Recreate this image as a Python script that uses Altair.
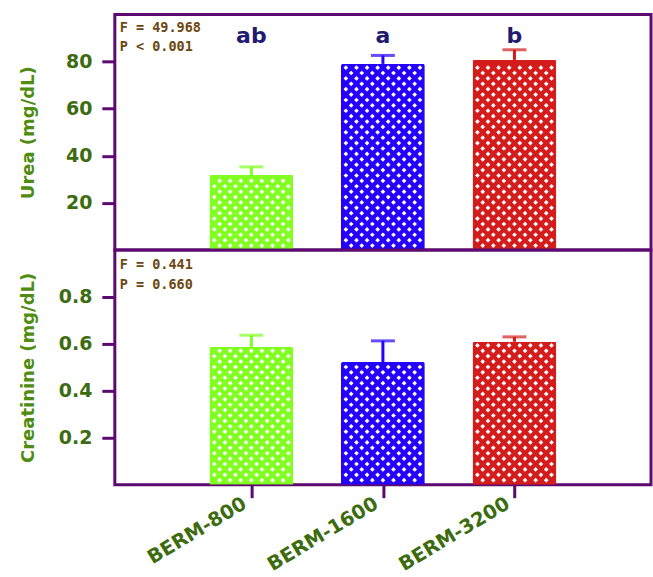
import altair as alt
import pandas as pd

groups = ["BERM-800", "BERM-1600", "BERM-3200"]
positions = [1, 2, 3]
colors = ["#80ff20", "#2400ff", "#d41c1c"]
urea = [31.9, 79.0, 80.7]
urea_err = [3.4, 3.6, 4.3]
creat = [0.587, 0.523, 0.609]
creat_err = [0.050, 0.090, 0.021]
letters = ["ab", "a", "b"]
urea_stats = ["F = 49.968", "P < 0.001"]
creat_stats = ["F = 0.441", "P = 0.660"]

FRAME = "#5c0a70"
LABEL = "#3d6c10"
TITLE = "#4f8c12"
W = 537
H1 = 236
H2 = 235
XMAX = 4.0
BARPX = 84
STEP = 5.4  # pattern step in px

df_u = pd.DataFrame({"group": groups, "pos": positions, "val": urea, "err": urea_err,
                     "letter": letters})
df_u["top"] = df_u["val"] + df_u["err"]
df_c = pd.DataFrame({"group": groups, "pos": positions, "val": creat, "err": creat_err})
df_c["top"] = df_c["val"] + df_c["err"]

xscale = alt.Scale(domain=[0, XMAX], nice=False, zero=False)
cscale = alt.Scale(domain=groups, range=colors)


def panel(df, ymax, yvals, fmt, title, height, stats, srange, bottom, letters_on):
    pxu = height / ymax
    xpx = W / XMAX
    base = alt.Chart(df)
    yaxis = alt.Axis(values=yvals, format=fmt, title=title, titleX=-77,
                     titleBaseline="bottom")
    if bottom:
        xaxis = alt.Axis(values=positions, title=None,
                         labelExpr="datum.value == 1 ? 'BERM-800' : datum.value == 2 ? 'BERM-1600' : 'BERM-3200'",
                         labelAngle=-31, labelAlign="right", labelBaseline="middle",
                         labelFontSize=19.5, labelFont="DejaVu Sans", labelFontWeight="bold",
                         labelColor=LABEL, ticks=True, tickSize=13, tickWidth=3,
                         tickColor=FRAME, domain=False, grid=False, labelPadding=4,
                         labelOffset=-7)
    else:
        xaxis = None
    bars = base.mark_bar(size=BARPX, cornerRadiusTopLeft=2, cornerRadiusTopRight=2).encode(
        x=alt.X("pos:Q", scale=xscale, axis=xaxis),
        y=alt.Y("val:Q", scale=alt.Scale(domain=[0, ymax], nice=False), axis=yaxis),
        color=alt.Color("group:N", scale=cscale, legend=None),
    )
    # white diamond lattice pattern inside bars
    pattern = base.transform_calculate(
        kx="sequence(-7, 8)"
    ).transform_flatten(["kx"]).transform_calculate(
        jy="sequence(0, 46)"
    ).transform_flatten(["jy"]).transform_filter(
        "(datum.kx + datum.jy + 100) % 2 == 0"
    ).transform_calculate(
        px=f"datum.pos + datum.kx * {STEP} / {xpx}",
        py=f"(datum.jy * {STEP} + 4.5) / {pxu}",
    ).transform_filter(
        f"datum.py < datum.val - 3.5 / {pxu}"
    ).mark_point(shape="diamond", filled=True, size=22, color="white", opacity=1).encode(
        x=alt.X("px:Q", scale=xscale), y=alt.Y("py:Q"))
    rule = base.mark_rule(strokeWidth=3).encode(
        x="pos:Q", y="val:Q", y2="top:Q",
        color=alt.Color("group:N", scale=cscale, legend=None))
    cap = base.mark_tick(orient="horizontal", size=24, thickness=3).encode(
        x="pos:Q", y="top:Q", color=alt.Color("group:N", scale=cscale, legend=None))
    sdf = pd.DataFrame({"t": stats, "i": [0, 1]})
    stat_text = alt.Chart(sdf).mark_text(
        align="left", baseline="middle", font="DejaVu Sans Mono", fontWeight="bold",
        fontSize=13.5, color="#6b4810").encode(
        text="t:N",
        x=alt.value(5),
        y=alt.Y("i:Q", scale=alt.Scale(domain=[0, 1], range=srange), axis=None))
    layers = [bars, pattern, rule, cap]
    if letters_on:
        lt = base.mark_text(font="DejaVu Sans", fontWeight="bold", fontSize=22,
                            color="#221a70", baseline="middle").encode(
            x="pos:Q", y=alt.datum(91), text="letter:N")
        layers.append(lt)
    ch = alt.layer(*layers).resolve_scale(y="shared")
    ch = alt.layer(ch, stat_text).resolve_scale(y="independent")
    return ch.properties(width=W, height=height)


top = panel(df_u, 100, [20, 40, 60, 80], "d", "Urea (mg/dL)", H1, urea_stats, [14, 33], False, True)
bot = panel(df_c, 1.0, [0.2, 0.4, 0.6, 0.8], ".1f", "Creatinine (mg/dL)", H2, creat_stats, [15, 35], True, False)

chart = alt.vconcat(top, bot, spacing=0, bounds="flush").properties(
    padding={"left": 18, "top": 12, "right": 0, "bottom": 0},
    background="white"
).configure_view(
    stroke=FRAME, strokeWidth=3
).configure_axisY(
    grid=False, domain=False, ticks=True, tickSize=13, tickWidth=3, tickColor=FRAME,
    labelFont="DejaVu Sans", labelFontWeight="bold", labelFontSize=19, labelColor=LABEL,
    labelPadding=10, titleFont="DejaVu Sans", titleFontWeight="bold", titleFontSize=18,
    titleColor=TITLE
)

chart.save("out.html", embed_options={"renderer": "svg", "actions": False})
